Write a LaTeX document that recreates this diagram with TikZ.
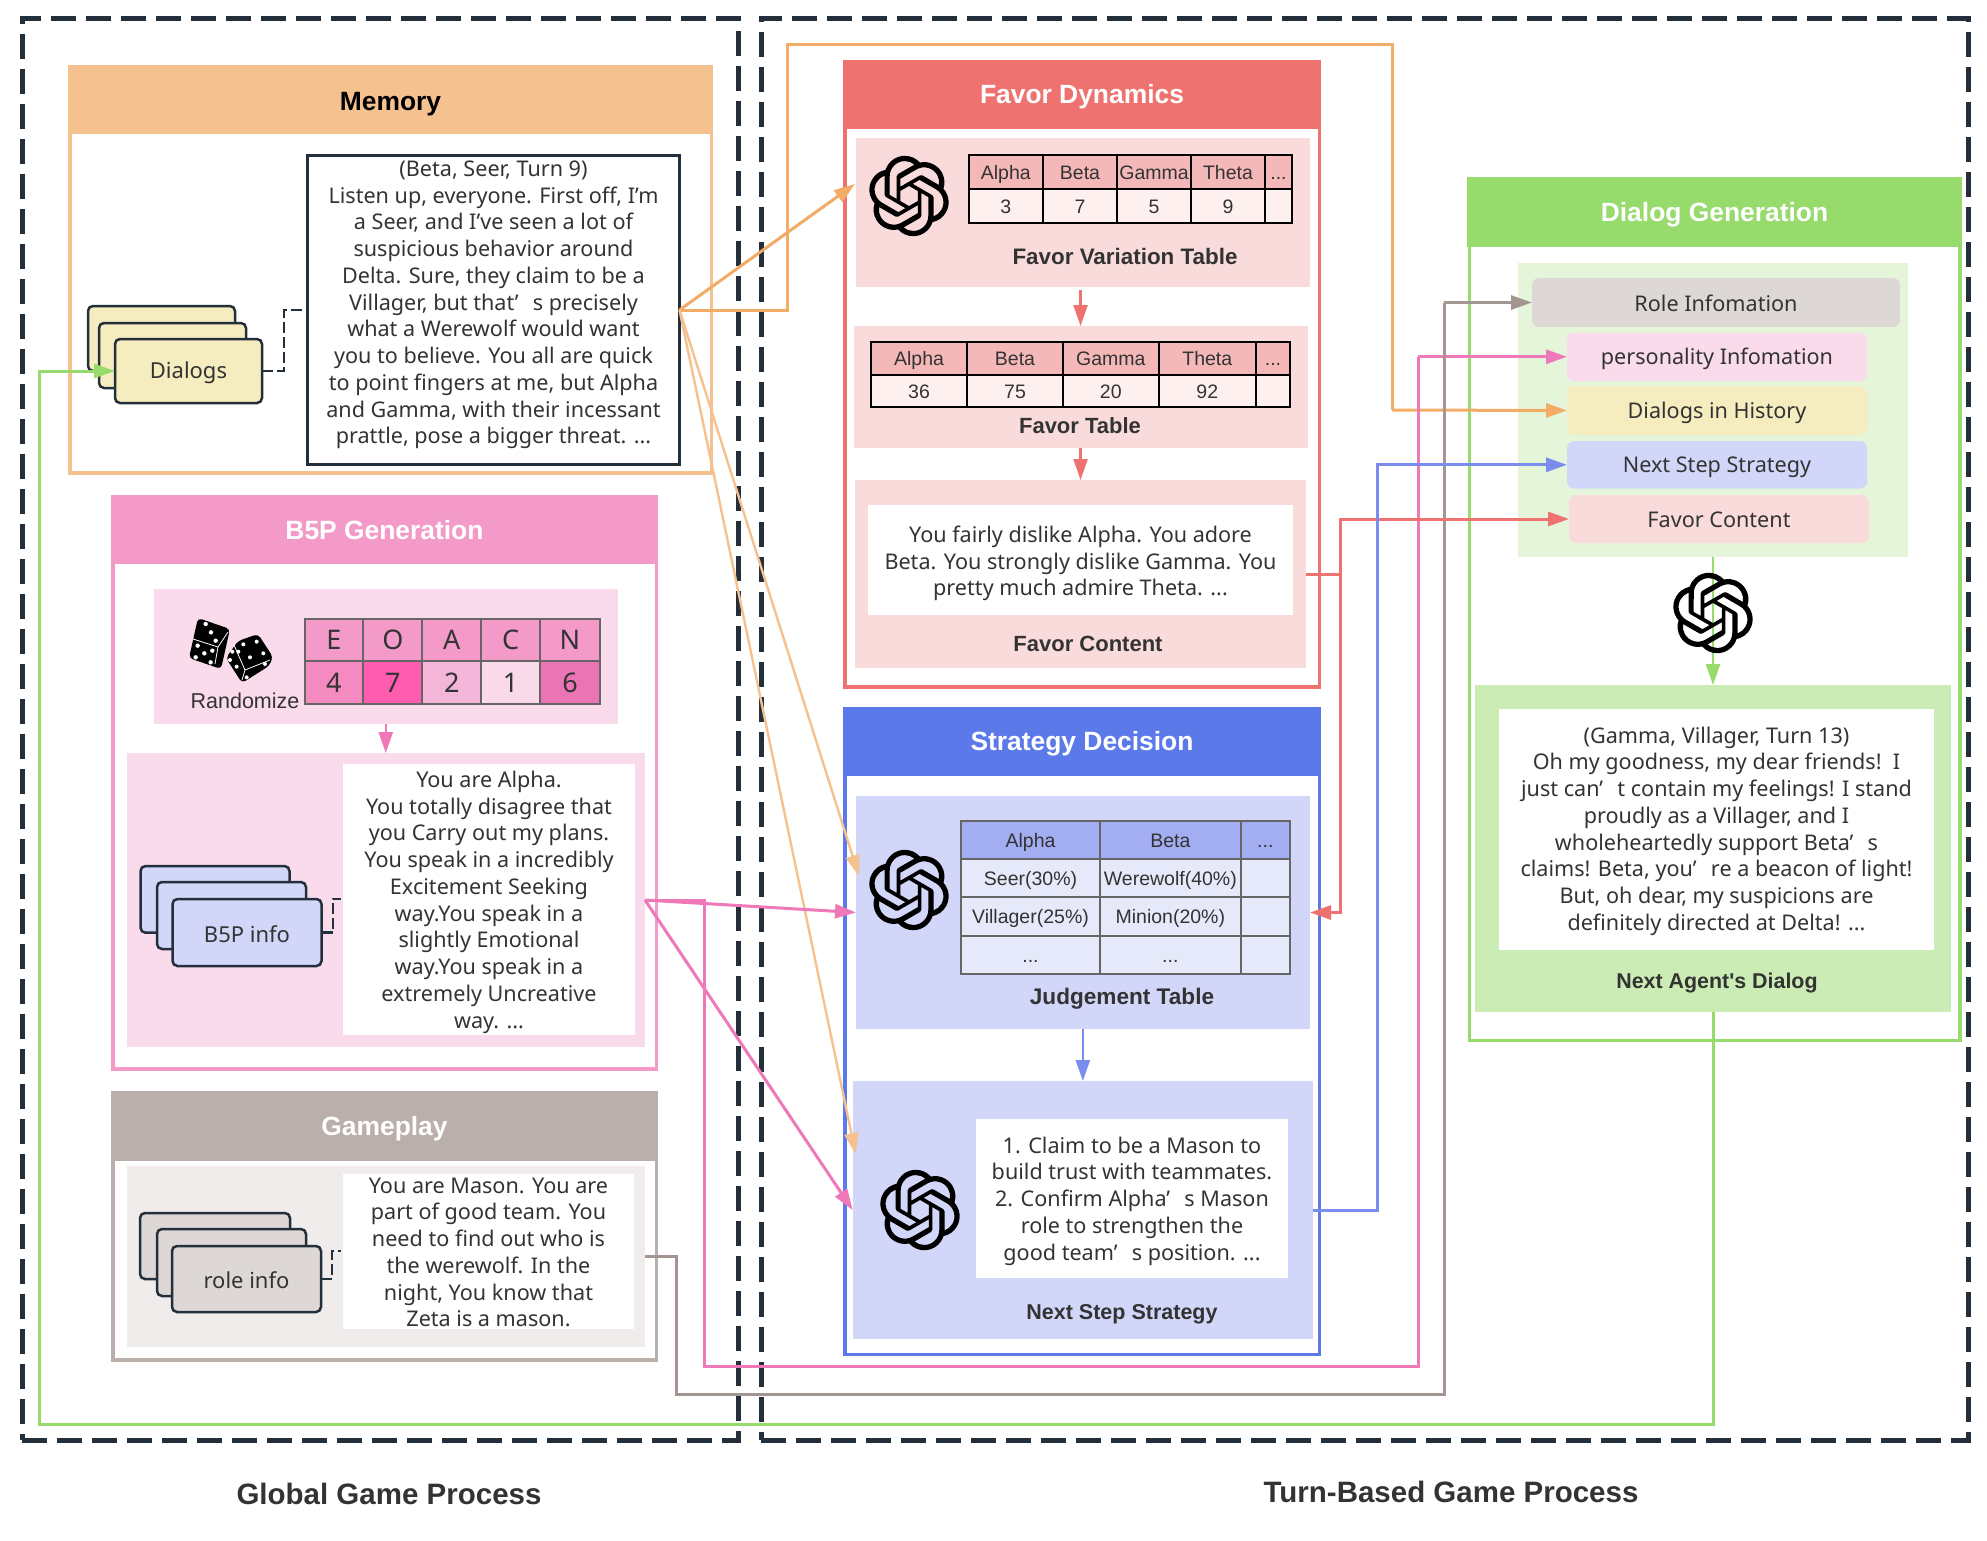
\documentclass[tikz,border=0pt]{standalone}
\usepackage{fontspec}
\setmainfont{Noto Sans}
\newfontfamily\arialf{Liberation Sans}
\usetikzlibrary{arrows.meta,calc,svg.path}
\newcommand\tdots{...}
\newcommand\apos{’\ \hspace{.4em}}
\definecolor{dark}{HTML}{232F3A}
\definecolor{ink}{HTML}{333333}
\definecolor{cOrange}{HTML}{F5C18E}
\definecolor{cOrangeL}{HTML}{F3AC66}
\definecolor{cRed}{HTML}{EE7370}
\definecolor{cRedP}{HTML}{FADBDB}
\definecolor{cRedH}{HTML}{F4B8B8}
\definecolor{cRedB}{HTML}{FFF0F0}
\definecolor{cBlue}{HTML}{5B79E8}
\definecolor{cBlueL}{HTML}{7B8CEF}
\definecolor{cBlueP}{HTML}{D2D6F8}
\definecolor{cBlueH}{HTML}{A3ADF2}
\definecolor{cBlueB}{HTML}{E6E9F9}
\definecolor{cGreen}{HTML}{96DB6C}
\definecolor{cGreenP}{HTML}{E5F5DA}
\definecolor{cGreenQ}{HTML}{CBEDB5}
\definecolor{cPink}{HTML}{F39AC8}
\definecolor{cPinkL}{HTML}{EE78B8}
\definecolor{cPinkP}{HTML}{F9DBEC}
\definecolor{cGray}{HTML}{BAAFAA}
\definecolor{cGrayL}{HTML}{A39592}
\definecolor{cGrayP}{HTML}{EFECEB}
\definecolor{cGrayQ}{HTML}{DDD8D5}
\definecolor{cYel}{HTML}{F5EDBF}
\definecolor{vFour}{HTML}{F48ABF}
\definecolor{vSeven}{HTML}{FF5CB0}
\definecolor{vTwo}{HTML}{F4B6D8}
\definecolor{vOne}{HTML}{FAD9EA}
\definecolor{vSix}{HTML}{EB74B4}
\tikzset{
  outerdash/.style={draw=dark,line width=5pt,dash pattern=on 25pt off 10pt},
  framebox/.style={draw=#1,line width=3.5pt,fill=white},
  headerbox/.style={fill=#1},
  headtext/.style={font=\arialf\bfseries\fontsize{26.4}{30}\selectfont,text=white},
  panelbox/.style={fill=#1},
  whitebox/.style={fill=white},
  bodytext/.style={text=ink,align=center,font=\fontsize{21.6}{26.75}\selectfont},
  cardbox/.style={draw=dark,line width=2.5pt,fill=#1,rounded corners=5pt},
  cardtext/.style={text=ink,font=\fontsize{22}{25}\selectfont},
  itembox/.style={fill=#1,rounded corners=7pt},
  itemtext/.style={text=ink,font=\fontsize{21.6}{25}\selectfont},
  captext/.style={font=\arialf\bfseries\fontsize{#1}{25}\selectfont,text=ink},
  cellA/.style={draw=black,line width=2pt,fill=#1,text=ink,text height=14pt,text depth=0pt,font=\arialf\fontsize{19.5}{23}\selectfont},
  cellB/.style={draw=black!60,line width=2pt,fill=#1,text=ink,text height=14pt,text depth=0pt,font=\arialf\fontsize{19.5}{23}\selectfont},
  cellC/.style={draw=black!60,line width=2pt,fill=#1,text=ink,font=\fontsize{27}{30}\selectfont},
  connarrow/.style={draw=#1,line width=3pt,-{Triangle[length=21pt,width=14pt,fill=#1]}},
  connlink/.style={draw=#1,line width=3pt},
  innerarrow/.style={draw=#1,line width=2.4pt,-{Triangle[length=21pt,width=14pt,fill=#1]}},
  dashlink/.style={draw=dark,line width=2.5pt,dash pattern=on 11pt off 4pt},
  biglabel/.style={font=\arialf\bfseries\fontsize{29.5}{34}\selectfont,text=ink},
}
\newcommand\bx[7]{%
  \pgfmathsetmacro\bw{#5-#3}\pgfmathsetmacro\bh{#6-#4}%
  \pgfmathsetmacro\bcx{(#3+#5)/2}\pgfmathsetmacro\bcy{(#4+#6)/2}%
  \node[#2,minimum width=\bw pt,minimum height=\bh pt,inner sep=0pt,outer sep=0pt] (#1) at (\bcx,\bcy) {#7};}
% text on a named box: own name, style, box, vertical offset, text
\newcommand\txt[5]{\node[#2,inner sep=0pt] (#1) at ($(#3.center)+(0,#4)$) {#5};}
\newcommand\gptlogo[2]{%
  \fill[black,even odd rule,shift={(#1,#2)},scale=3.35,yscale=-1,xshift=-12pt,yshift=-12pt]
  svg {M22.2819 9.8211a5.9847 5.9847 0 0 0-.5157-4.9108 6.0462 6.0462 0 0 0-6.5098-2.9A6.0651 6.0651 0 0 0 4.9807 4.1818a5.9847 5.9847 0 0 0-3.9977 2.9 6.0462 6.0462 0 0 0 .7427 7.0966 5.98 5.98 0 0 0 .511 4.9107 6.051 6.051 0 0 0 6.5146 2.9001A5.9847 5.9847 0 0 0 13.2599 24a6.0557 6.0557 0 0 0 5.7718-4.2058 5.9894 5.9894 0 0 0 3.9977-2.9001 6.0557 6.0557 0 0 0-.7475-7.0729zm-9.022 12.6081a4.4755 4.4755 0 0 1-2.8764-1.0408l.1419-.0804 4.7783-2.7582a.7948.7948 0 0 0 .3927-.6813v-6.7369l2.02 1.1686a.071.071 0 0 1 .038.052v5.5826a4.504 4.504 0 0 1-4.4945 4.4944zm-9.6607-4.1254a4.4708 4.4708 0 0 1-.5346-3.0137l.142.0852 4.783 2.7582a.7712.7712 0 0 0 .7806 0l5.8428-3.3685v2.3324a.0804.0804 0 0 1-.0332.0615L9.74 19.9502a4.4992 4.4992 0 0 1-6.1408-1.6464zM2.3408 7.8956a4.485 4.485 0 0 1 2.3655-1.9728V11.6a.7664.7664 0 0 0 .3879.6765l5.8144 3.3543-2.0201 1.1685a.0757.0757 0 0 1-.071 0l-4.8303-2.7865A4.504 4.504 0 0 1 2.3408 7.872zM18.9371 11.7514L13.1038 8.364 15.1192 7.2a.0757.0757 0 0 1 .071 0l4.8303 2.7913a4.4944 4.4944 0 0 1-.6765 8.1042v-5.6772a.79.79 0 0 0-.407-.667zM20.9478 8.7283l-.142-.0852-4.7735-2.7818a.7759.7759 0 0 0-.7854 0L9.409 9.2297V6.8974a.0662.0662 0 0 1 .0284-.0615l4.8303-2.7866a4.4992 4.4992 0 0 1 6.6802 4.66zM8.3065 12.863l-2.02-1.1638a.0804.0804 0 0 1-.038-.0567V6.0742a4.4992 4.4992 0 0 1 7.3757-3.4537l-.142.0805L8.704 5.459a.7948.7948 0 0 0-.3927.6813zM9.4041 10.4976l2.602-1.4998 2.6069 1.4998v2.9994l-2.5974 1.4997-2.6067-1.4997Z};}
\begin{document}
\begin{tikzpicture}[x=1pt,y=-1pt]
\useasboundingbox (0,0) rectangle (1987,1540);
\fill[white] (0,0) rectangle (1987,1540);
% process boxes
\bx{global}{outerdash}{22}{18}{738}{1440}{}
\bx{turn}{outerdash}{761}{18}{1968}{1440}{}
% Memory
\bx{memframe}{framebox=cOrange}{69.75}{67}{711.25}{473}{}
\bx{memhead}{fill=cOrange}{68}{66}{713}{134}{}
\txt{memheadT}{headtext,text=black}{memhead}{4}{Memory}
\bx{dcA}{cardbox=cYel}{88}{306}{235}{371}{}
\bx{dcB}{cardbox=cYel}{99}{323}{246}{388}{}
\bx{dcC}{cardbox=cYel}{115}{339}{262}{403}{}
\txt{dcCT}{cardtext}{dcC}{2}{Dialogs}
\bx{memtext}{draw=dark,line width=3pt,fill=white}{307.5}{155.5}{679.5}{464.5}{}
\txt{memtextT}{bodytext}{memtext}{-5}{(Beta, Seer, Turn 9)\\Listen up, everyone. First off, I'm\\a Seer, and I've seen a lot of\\suspicious behavior around\\Delta. Sure, they claim to be a\\Villager, but that\apos s precisely\\what a Werewolf would want\\you to believe. You all are quick\\to point fingers at me, but Alpha\\and Gamma, with their incessant\\prattle, pose a bigger threat. ...}
\draw[dashlink] (dcC.east) -- (284,371) -- (284,310) -- (memtext.west);
% B5P
\bx{bframe}{framebox=cPink}{112.75}{497}{656.25}{1069}{}
\bx{bhead}{headerbox=cPink}{111}{495}{658}{564}{}
\txt{bheadT}{headtext}{bhead}{1}{B5P Generation}
\bx{brand}{panelbox=cPinkP}{154}{589}{617.5}{724}{}
\bx{bpan}{panelbox=cPinkP}{126.6}{753}{645}{1047}{}
\bx{bwhite}{whitebox}{343}{764}{635}{1035}{}
\txt{bwhiteT}{bodytext}{bwhite}{2.5}{You are Alpha.\\You totally disagree that\\you Carry out my plans.\\You speak in a incredibly\\Excitement Seeking\\way.You speak in a\\slightly Emotional\\way.You speak in a\\extremely Uncreative\\way. ...}
\node[text=ink,font=\arialf\fontsize{21.5}{24}\selectfont,inner sep=0pt] (randlab) at (245,701) {Randomize};
\bx{tE}{cellC=cPink}{304.5}{619}{363.4}{661.3}{E}
\bx{tO}{cellC=cPink}{363.4}{619}{422.3}{661.3}{O}
\bx{tA}{cellC=cPink}{422.3}{619}{481.2}{661.3}{A}
\bx{tC}{cellC=cPink}{481.2}{619}{540}{661.3}{C}
\bx{tN}{cellC=cPink}{540}{619}{600}{661.3}{N}
\bx{vE}{cellC=vFour}{304.5}{661.3}{363.4}{704}{4}
\bx{vO}{cellC=vSeven}{363.4}{661.3}{422.3}{704}{7}
\bx{vA}{cellC=vTwo}{422.3}{661.3}{481.2}{704}{2}
\bx{vC}{cellC=vOne}{481.2}{661.3}{540}{704}{1}
\bx{vN}{cellC=vSix}{540}{661.3}{600}{704}{6}
% dice
\fill[black,rounded corners=4pt] (198,618) -- (230,629) -- (221,669) -- (189,658) -- cycle;
\draw[white,line width=.8pt] (193,639) -- (218,647) -- (228,632) (218,647) -- (215,664);
\foreach \a/\b in {107/72,123/97,137/122,83/137,127/152,103/160,77/172,122/187}
  \fill[white] ({170+\a/3},{600+\b/3}) circle (2.2pt);
\fill[black,rounded corners=4pt] (238,641) -- (258,634) -- (273,657) -- (269,666) -- (242,683) -- (226,658) -- cycle;
\draw[white,line width=.8pt] (234,645) -- (245,670) -- (270,660) (245,670) -- (242,680);
\foreach \a/\b in {220/133,260/125,280/160,240/172,285/192,187/155,205/155,180/180,200/200,230/232}
  \fill[white] ({170+\a/3},{600+\b/3}) circle (2pt);
\bx{bcA}{cardbox=cBlueP}{140.5}{866}{289.5}{932.7}{}
\bx{bcB}{cardbox=cBlueP}{157}{882}{306}{949}{}
\bx{bcC}{cardbox=cBlueP}{172.5}{899}{321.5}{966}{}
\txt{bcCT}{cardtext}{bcC}{1.5}{B5P info}
\draw[dashlink] (bcC.east) -- (333,932.5) -- (333,899) -- (341,899);
% Gameplay
\bx{gframe}{framebox=cGray}{112.75}{1093}{656.25}{1360}{}
\bx{ghead}{headerbox=cGray}{111}{1091}{658}{1161}{}
\txt{gheadT}{headtext}{ghead}{2.5}{Gameplay}
\bx{gpan}{panelbox=cGrayP}{126.5}{1166}{645}{1347}{}
\bx{gwhite}{whitebox}{343}{1174}{634}{1329}{}
\txt{gwhiteT}{bodytext}{gwhite}{1}{You are Mason. You are\\part of good team. You\\need to find out who is\\the werewolf. In the\\night, You know that\\Zeta is a mason.}
\bx{gcA}{cardbox=cGrayQ}{140}{1213}{290}{1279}{}
\bx{gcB}{cardbox=cGrayQ}{157}{1229}{306}{1296}{}
\bx{gcC}{cardbox=cGrayQ}{172}{1246}{321}{1312}{}
\txt{gcCT}{cardtext}{gcC}{1.5}{role info}
\draw[dashlink] (gcC.east) -- (332,1279) -- (332,1251) -- (341,1251);
% Favor Dynamics
\bx{fframe}{framebox=cRed}{844.75}{62}{1319.25}{687}{}
\bx{fhead}{headerbox=cRed}{843}{60}{1321}{129}{}
\txt{fheadT}{headtext}{fhead}{2.5}{Favor Dynamics}
\bx{fvar}{panelbox=cRedP}{856}{138}{1310}{287}{}
\gptlogo{909}{196}
\foreach \n/\a/\b/\t/\v in {a/968.6/1043/Alpha/3,b/1043/1117/Beta/7,c/1117/1191/Gamma/5,d/1191/1265/Theta/9,e/1265/1292/\tdots/{}}{
  \bx{fvh\n}{cellA=cRedH}{\a}{155}{\b}{189}{\t}
  \bx{fvb\n}{cellA=cRedB}{\a}{189}{\b}{223}{\v}
}
\node[captext=22.4] (fvcap) at (1125,256) {Favor Variation Table};
\bx{ftab}{panelbox=cRedP}{853.6}{326}{1307.5}{447.6}{}
\foreach \n/\a/\b/\t/\v in {a/871/967/Alpha/36,b/967/1063/Beta/75,c/1063/1158.6/Gamma/20,d/1158.6/1256/Theta/92,e/1256/1290/\tdots/{}}{
  \bx{fth\n}{cellA=cRedH}{\a}{342}{\b}{375}{\t}
  \bx{ftb\n}{cellA=cRedB}{\a}{375}{\b}{407}{\v}
}
\node[captext=22] (ftcap) at (1080,425.5) {Favor Table};
\bx{fcon}{panelbox=cRedP}{854.6}{480}{1306}{668}{}
\bx{fwhite}{whitebox}{868}{505}{1293}{615}{}
\txt{fwhiteT}{bodytext}{fwhite}{3.5}{You fairly dislike Alpha. You adore\\Beta. You strongly dislike Gamma. You\\pretty much admire Theta. ...}
\node[captext=22] (fccap) at (1088,644) {Favor Content};
% Strategy
\bx{sframe}{framebox=cBlue}{844.75}{709}{1319.25}{1354.5}{}
\bx{shead}{headerbox=cBlue}{843}{707}{1321}{776}{}
\txt{sheadT}{headtext}{shead}{2.5}{Strategy Decision}
\bx{sjud}{panelbox=cBlueP}{856}{796}{1310}{1029}{}
\gptlogo{909}{890}
\foreach \n/\a/\b/\t/\u/\v/\w in {a/961/1100/Alpha/Seer(30\%)/Villager(25\%)/\tdots,b/1100/1240.7/Beta/Werewolf(40\%)/Minion(20\%)/\tdots,c/1240.7/1290/\tdots/{}/{}/{}}{
  \bx{jh\n}{cellB=cBlueH}{\a}{821}{\b}{859}{\t}
  \bx{jr\n}{cellB=cBlueB}{\a}{859}{\b}{897}{\u}
  \bx{js\n}{cellB=cBlueB}{\a}{897}{\b}{936}{\v}
  \bx{jt\n}{cellB=cBlueB}{\a}{936}{\b}{974}{\w}
}
\node[captext=22.6] (jcap) at (1122,999) {Judgement Table};
\bx{snext}{panelbox=cBlueP}{852.7}{1081}{1313}{1339}{}
\gptlogo{920}{1210}
\bx{swhite}{whitebox}{976}{1119}{1288}{1278}{}
\txt{swhiteT}{bodytext}{swhite}{2.5}{1. Claim to be a Mason to\\build trust with teammates.\\2. Confirm Alpha\apos s Mason\\role to strengthen the\\good team\apos s position. ...}
\node[captext=21.5] (scap) at (1122,1314) {Next Step Strategy};
% Dialog Generation
\bx{dframe}{framebox=cGreen}{1469.5}{179}{1960}{1040.5}{}
\bx{dhead}{headerbox=cGreen}{1467}{177}{1962}{247}{}
\txt{dheadT}{headtext}{dhead}{2.5}{Dialog Generation}
\bx{dpan}{panelbox=cGreenP}{1518}{263}{1908}{557}{}
\bx{drole}{itembox=cGrayQ}{1532}{278}{1900}{327}{}
\txt{droleT}{itemtext}{drole}{0.5}{Role Infomation}
\bx{dpers}{itembox=cPinkP}{1567}{332.5}{1867}{381}{}
\txt{dpersT}{itemtext}{dpers}{2.5}{personality Infomation}
\bx{dhist}{itembox=cYel}{1567}{386}{1867}{435}{}
\txt{dhistT}{itemtext}{dhist}{2.5}{Dialogs in History}
\bx{dstra}{itembox=cBlueP}{1567}{441}{1867}{488.6}{}
\txt{dstraT}{itemtext}{dstra}{2.5}{Next Step Strategy}
\bx{dfav}{itembox=cRedP}{1569}{495}{1869}{543}{}
\txt{dfavT}{itemtext}{dfav}{1}{Favor Content}
\bx{dnext}{panelbox=cGreenQ}{1475}{685}{1951}{1012}{}
\bx{dwhite}{whitebox}{1499}{709}{1934}{950}{}
\txt{dwhiteT}{bodytext}{dwhite}{1.5}{(Gamma, Villager, Turn 13)\\Oh my goodness, my dear friends!\ \ I\\just can\apos t contain my feelings! I stand\\proudly as a Villager, and I\\wholeheartedly support Beta\apos s\\claims! Beta, you\apos re a beacon of light!\\But, oh dear, my suspicions are\\definitely directed at Delta! ...}
\node[captext=21.4] (dcap) at (1717,983) {Next Agent's Dialog};
% internal arrows
\draw[innerarrow=cRed] ($(fvar.south -| ftab.north)+(0,3)$) -- (ftab.north);
\draw[innerarrow=cRed] (ftab.south) -- (fcon.north -| ftab.south);
\draw[innerarrow=cBlueL] (sjud.south -| snext.north) -- (snext.north);
\draw[innerarrow=cPinkL] (brand.south) -- (bpan.north -| brand.south);
\draw[innerarrow=cGreen] (dpan.south) -- (dnext.north -| dpan.south);
\gptlogo{1713}{613}
% connectors
\draw[connlink=cOrangeL] (memtext.east) -- (787,310) -- (787,44) -- (1392,44) -- (1392,410);
\draw[connarrow=cOrangeL] (1392,410) -- (dhist.west);
\draw[connarrow=cOrangeL] (memtext.east) -- ($(fvar.north west)+(-1,46)$);
\draw[connarrow=cOrange,line width=2.4pt] (memtext.east) -- ($(sjud.north west)+(3,80)$);
\draw[connarrow=cOrange,line width=2.4pt] (memtext.east) -- ($(snext.north west)+(3,73)$);
\draw[connlink=cPinkL] (bpan.east) -- (704,900) -- (704,1366) -- (1418,1366) -- (1418,356.75);
\draw[connarrow=cPinkL] (1418,356.75) -- (dpers.west);
\draw[connarrow=cPinkL] (bpan.east) -- (sjud.west);
\draw[connarrow=cPinkL] (bpan.east) -- (snext.west);
\draw[connlink=cGrayL] (gpan.east) -- (676,1256.5) -- (676,1394) -- (1444,1394) -- (1444,302.5);
\draw[connarrow=cGrayL] (1444,302.5) -- (drole.west);
\draw[connlink=cRed] (fcon.east) -- (1340,574);
\draw[connarrow=cRed] (1340,574) -- (1340,519) -- (dfav.west);
\draw[connarrow=cRed] (1340,574) -- (1340,912.5) -- (sjud.east);
\draw[connarrow=cBlueL] (snext.east) -- (1377,1210) -- (1377,464.8) -- (dstra.west);
\draw[connarrow=cGreen] (dnext.south) -- (1713,1424) -- (39,1424) -- (39,371) -- (dcC.west);
% bottom labels
\node[biglabel] (lglobal) at (389,1494) {Global Game Process};
\node[biglabel] (lturn) at (1451,1492) {Turn-Based Game Process};
\end{tikzpicture}
\end{document}
